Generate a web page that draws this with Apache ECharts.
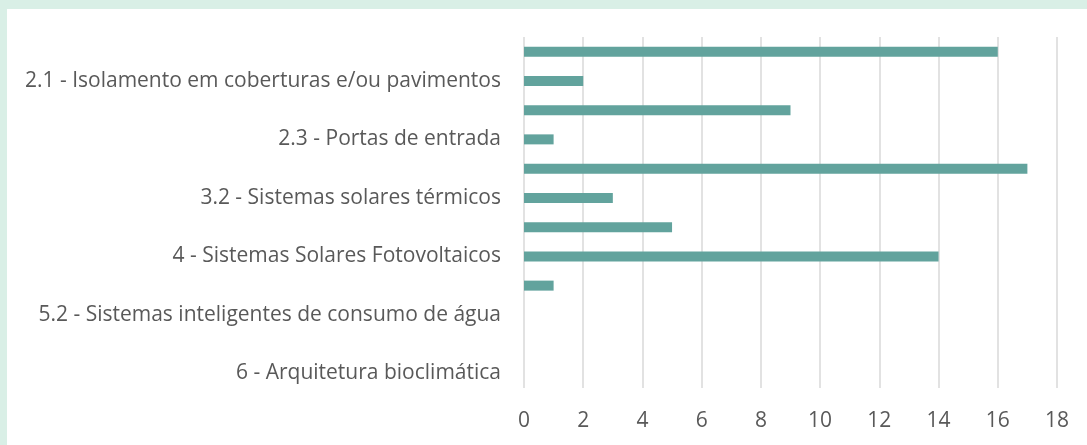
<!DOCTYPE html>
<html>
<head>
<meta charset="utf-8">
<script src="https://cdn.jsdelivr.net/npm/echarts@6/dist/echarts.min.js"></script>
<style>
  html, body { margin: 0; padding: 0; background: #ffffff; }
  #wrap { width: 1080px; height: 436px; border-top: 9px solid #d9efe6; border-left: 7px solid #d9efe6; background: #fff; }
  #chart { width: 1080px; height: 436px; }
</style>
</head>
<body>
<div id="wrap"><div id="chart"></div></div>
<script>
// categories listed bottom to top (axis not inverted)
var categories = [
  '6 - Arquitetura bioclimática',
  '5.3 - Sistemas de recolha de águas pluviais',
  '5.2 - Sistemas inteligentes de consumo de água',
  '5.1 - Dispositivos eficientes de consumo de água',
  '4 - Sistemas Solares Fotovoltaicos',
  '3.3 - Caldeiras e recuperadores a biomassa',
  '3.2 - Sistemas solares térmicos',
  '3.1 - Bombas de calor',
  '2.3 - Portas de entrada',
  '2.2 - Isolamento em paredes',
  '2.1 - Isolamento em coberturas e/ou pavimentos',
  '1 - Janelas eficientes'
];
var values = [0, 0, 0, 1, 14, 5, 3, 17, 1, 9, 2, 16];
var xTicks = { min: 0, max: 18, interval: 2 };

var chart_dom = document.getElementById('chart');
var chart = echarts.init(chart_dom, null, { renderer: 'canvas' });

var option = {
  animation: false,
  grid: {
    left: 517,
    right: 30,
    top: 28,
    bottom: 57,
    containLabel: false
  },
  xAxis: {
    type: 'value',
    min: xTicks.min,
    max: xTicks.max,
    interval: xTicks.interval,
    axisLine: { show: false },
    axisTick: { show: false },
    splitLine: { lineStyle: { color: '#d9d9d9', width: 1.5 } },
    axisLabel: {
      color: '#595959',
      fontFamily: 'Open Sans',
      fontSize: 21,
      margin: 23
    }
  },
  yAxis: {
    type: 'category',
    data: categories,
    axisLine: { show: false },
    axisTick: { show: false },
    axisLabel: {
      interval: 1,
      color: '#595959',
      fontFamily: 'Open Sans',
      fontSize: 21,
      margin: 23
    }
  },
  series: [
    {
      type: 'bar',
      data: values,
      barWidth: 10,
      itemStyle: { color: '#62a39d' }
    }
  ]
};

chart.setOption(option);
window.addEventListener('resize', chart.resize);
</script>
</body>
</html>
